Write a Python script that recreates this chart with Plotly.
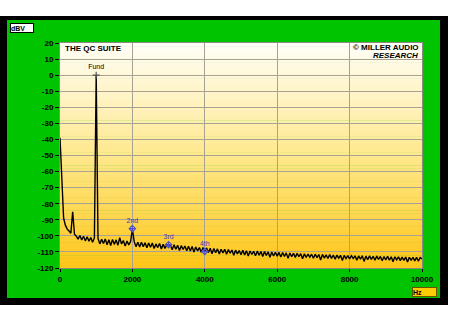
import plotly.graph_objects as go

# ---------------- data ----------------
freq_step_hz = 50
level_dbv = [
    -39, -70, -89, -93.5, -95.8, -97.0, -98.4, -85, -99.0, -100.2,
    -102.0, -99.8, -102.6, -100.2, -103.1, -100.6, -103.4, -101.0, -104.0, -101.3,
    0, -101.6, -105.0, -102.1, -104.8, -101.9, -105.5, -102.4, -106.0, -102.2,
    -105.3, -102.5, -105.8, -101.2, -105.1, -102.9, -106.4, -103.2, -105.6, -103.5,
    -96, -103.6, -106.8, -103.9, -107.0, -104.0, -106.7, -104.3, -107.4, -104.4,
    -107.1, -104.5, -107.9, -105.0, -107.3, -104.7, -108.2, -105.2, -107.8, -105.4,
    -105.5, -105.7, -108.7, -105.6, -108.3, -105.9, -109.1, -106.1, -108.5, -106.3,
    -109.2, -106.4, -109.4, -106.6, -110.0, -106.9, -109.3, -107.3, -110.2, -107.2,
    -109.7, -107.5, -110.4, -107.7, -111.1, -107.9, -110.5, -108.1, -111.3, -108.3,
    -110.7, -108.4, -111.5, -108.5, -110.8, -108.8, -112.1, -108.9, -111.2, -109.1,
    -111.7, -109.0, -111.9, -109.3, -112.5, -109.4, -111.6, -109.6, -112.4, -109.5,
    -112.1, -109.7, -112.9, -109.8, -112.2, -110.0, -113.3, -110.1, -112.5, -110.2,
    -112.6, -110.3, -113.2, -110.4, -112.8, -110.6, -114.0, -110.7, -112.9, -110.8,
    -113.4, -110.9, -113.0, -111.1, -114.3, -111.2, -113.5, -111.3, -113.2, -111.4,
    -113.9, -111.4, -113.6, -111.6, -115.0, -111.5, -113.8, -111.8, -114.1, -111.7,
    -114.0, -111.9, -114.5, -112.0, -113.9, -112.1, -115.3, -112.2, -114.2, -112.3,
    -114.4, -112.3, -114.1, -112.4, -115.1, -112.5, -114.5, -112.4, -115.9, -112.6,
    -114.8, -112.5, -114.6, -112.7, -115.2, -112.6, -114.7, -112.8, -115.5, -112.9,
    -114.9, -112.8, -115.1, -113.0, -116.1, -113.0, -115.0, -113.1, -115.4, -113.2,
    -115.2, -113.2, -116.3, -113.3, -115.3, -113.3, -115.6, -113.4, -115.7, -113.5,
    -114.3,
]
freq_hz = [i * freq_step_hz for i in range(len(level_dbv))]

fund_freq = [1000]
fund_level = [0]
fund_label = ["Fund"]

harm_freq = [2000, 3000, 4000]
harm_level = [-95.5, -105.5, -109.7]
harm_labels = ["2nd", "3rd", "4th"]

y_ticks = list(range(-120, 21, 10))
x_ticks = [0, 2000, 4000, 6000, 8000, 10000]

# ---------------- figure ----------------
W, H = 450, 309
ML, MR, MT, MB = 60, 28, 43, 41
PW, PH = W - ML - MR, H - MT - MB

fig = go.Figure()

fig.add_trace(go.Scatter(
    x=freq_hz, y=level_dbv, mode="lines",
    line=dict(color="#000000", width=1.4), hoverinfo="skip", showlegend=False,
))
fig.add_trace(go.Scatter(
    x=fund_freq, y=fund_level, mode="markers+text", text=fund_label,
    textposition="top center", textfont=dict(size=7, color="#000000", family="Liberation Sans"),
    marker=dict(symbol="cross-thin-open", size=5, color="#555555", line=dict(width=1.2, color="#555555")),
    showlegend=False,
))
fig.add_trace(go.Scatter(
    x=harm_freq, y=harm_level, mode="markers+text", text=harm_labels,
    textposition="top center", textfont=dict(size=7, color="#3A3AB0", family="Liberation Sans"),
    marker=dict(symbol="diamond-cross-open", size=5, color="#5050C8", line=dict(width=1.1, color="#5050C8")),
    showlegend=False,
))

shapes = []
def px(x):
    return (x - ML) / PW
def py(y):
    return (MT + PH - y) / PH

# outer black frame and green panel
shapes.append(dict(type="rect", xref="paper", yref="paper", x0=px(0), x1=px(448), y0=py(305), y1=py(16),
                   fillcolor="#000000", line=dict(width=0), layer="below"))
shapes.append(dict(type="rect", xref="paper", yref="paper", x0=px(7), x1=px(440), y0=py(298), y1=py(20),
                   fillcolor="#00C400", line=dict(width=0), layer="below"))

# gradient plot background
stops = [(0.0, (255, 254, 248)), (0.5, (255, 232, 140)), (1.0, (255, 198, 24))]
def grad(t):
    for (t0, c0), (t1, c1) in zip(stops[:-1], stops[1:]):
        if t0 <= t <= t1:
            f = (t - t0) / (t1 - t0)
            return "rgb(%d,%d,%d)" % tuple(round(a + (b - a) * f) for a, b in zip(c0, c1))
    return "rgb(%d,%d,%d)" % stops[-1][1]
n = 70
for i in range(n):
    t = (i + 0.5) / n
    shapes.append(dict(type="rect", xref="x domain", yref="y domain", x0=0, x1=1,
                       y0=1 - (i + 1) / n - 0.002, y1=1 - i / n,
                       fillcolor=grad(t), line=dict(width=0), layer="below"))

annotations = [
    dict(text="dBV", xref="paper", yref="paper", x=px(10), y=py(28.5), xanchor="left", yanchor="middle",
         showarrow=False, bgcolor="#FFFFFF", bordercolor="#000000", borderwidth=1, borderpad=0,
         width=22, height=8, align="left",
         font=dict(size=7, color="#000000", family="Liberation Sans", weight="bold")),
    dict(text="Hz", xref="paper", yref="paper", x=px(412), y=py(292), xanchor="left", yanchor="middle",
         showarrow=False, bgcolor="#FFCC00", bordercolor="#6A5000", borderwidth=1, borderpad=0,
         width=23, height=8, align="left",
         font=dict(size=7, color="#000000", family="Liberation Sans", weight="bold")),
    dict(text="THE QC SUITE", xref="paper", yref="paper", x=px(63), y=py(48), xanchor="left", yanchor="middle",
         showarrow=False, font=dict(size=8, color="#000000", family="Liberation Sans", weight="bold")),
    dict(text="\u00a9 MILLER AUDIO", xref="paper", yref="paper", x=px(421), y=py(47), xanchor="right", yanchor="middle",
         showarrow=False, font=dict(size=8, color="#000000", family="Liberation Sans", weight="bold")),
    dict(text="<i>RESEARCH</i>", xref="paper", yref="paper", x=px(420), y=py(55.5), xanchor="right", yanchor="middle",
         showarrow=False, font=dict(size=8, color="#000000", family="Liberation Sans", weight="bold")),
]

fig.update_layout(
    width=W, height=H,
    margin=dict(l=ML, r=MR, t=MT, b=MB),
    paper_bgcolor="#FFFFFF",
    plot_bgcolor="rgba(0,0,0,0)",
    shapes=shapes,
    annotations=annotations,
    showlegend=False,
    xaxis=dict(range=[0, 10000], tickvals=x_ticks, ticktext=[str(v) for v in x_ticks],
               showgrid=True, gridcolor="#A8A293", gridwidth=1, zeroline=False,
               showline=True, linecolor="#8A8A80", linewidth=1, mirror=True,
               ticks="outside", ticklen=3, tickcolor="#000000",
               tickfont=dict(size=8, color="#000000", family="Liberation Sans", weight="bold"),
               fixedrange=True),
    yaxis=dict(range=[-120, 20], tickvals=y_ticks, ticktext=[str(v) for v in y_ticks],
               showgrid=True, gridcolor="#A8A293", gridwidth=1, zeroline=False,
               showline=True, linecolor="#8A8A80", linewidth=1, mirror=True,
               ticks="outside", ticklen=4, tickcolor="#000000",
               tickfont=dict(size=8, color="#000000", family="Liberation Sans", weight="bold"),
               fixedrange=True),
)

fig.write_html("out.html")
